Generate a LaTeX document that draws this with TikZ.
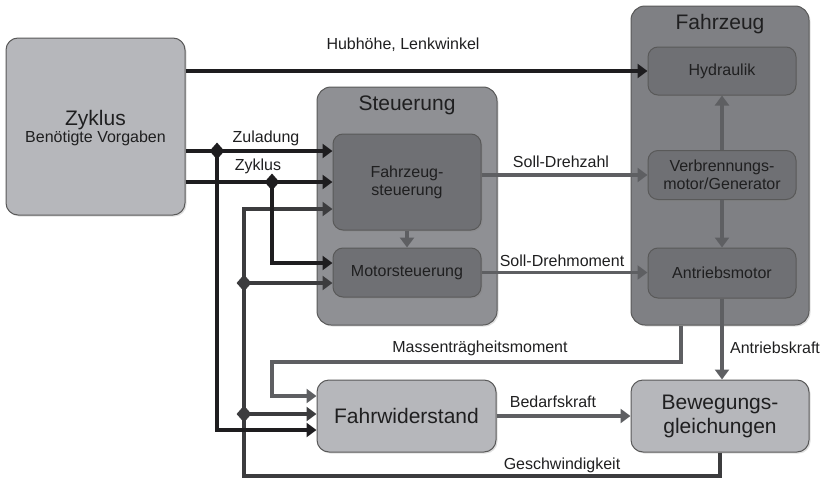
\documentclass[tikz,border=0pt]{standalone}
\usepackage{fontspec}
\setmainfont{Liberation Sans}
\usetikzlibrary{arrows.meta,shapes.geometric,shadows}

\definecolor{blk}{HTML}{1E1D1F}
\definecolor{dgr}{HTML}{3C3C3E}
\definecolor{gry}{HTML}{5E5F62}
\definecolor{lightbox}{HTML}{B6B7BB}
\definecolor{steubox}{HTML}{8F9094}
\definecolor{carbox}{HTML}{7F8084}
\definecolor{innerbox}{HTML}{6F7074}
\definecolor{txt}{HTML}{1F1F20}

\tikzset{
  box/.style={draw=black!65, line width=1pt, rounded corners=12pt, inner sep=0pt,
    text=txt, align=center, font=\fontsize{16}{18}\selectfont,
    drop shadow={opacity=0.25, shadow xshift=1.5pt, shadow yshift=-1.5pt}},
  lightnode/.style={box, fill=lightbox, font=\fontsize{21}{24}\selectfont},
  outer/.style={box, fill=#1, rounded corners=14pt},
  inner/.style={box, fill=innerbox, rounded corners=10pt, minimum width=148pt},
  title/.style={text=txt, align=center, font=\fontsize{21}{24}\selectfont},
  lbl/.style={text=txt, font=\fontsize{16}{18}\selectfont, inner sep=0pt},
  blkline/.style={draw=blk, line width=3.5pt, -{Triangle[length=10pt,width=14pt]}},
  dgrline/.style={draw=dgr, line width=3.5pt, -{Triangle[length=10pt,width=14pt]}},
  gryline/.style={draw=gry, line width=3.5pt, -{Triangle[length=10pt,width=14pt]}},
  junction/.style={diamond, fill=#1, inner sep=0pt, minimum width=15pt, minimum height=17pt}
}

\begin{document}
\begin{tikzpicture}[x=1pt,y=-1pt]
\useasboundingbox (0,0) rectangle (827,479);

\node[lightnode, minimum width=179pt, minimum height=177pt] (zyk) at (95.5,126.5) {};
\node[title] (zykt) at (95.5,128)
  {Zyklus\\[-7pt]{\fontsize{16}{18}\selectfont Benötigte Vorgaben}};

\node[outer=steubox, minimum width=180pt, minimum height=238pt] (steu) at (407,206) {};
\node[title] (steut) at (407,105) {Steuerung};
\node[inner, minimum height=96pt] (fzs) at (407,182) {Fahrzeug-\\steuerung};
\node[inner, minimum height=49pt] (ms) at (407,272.5) {Motorsteuerung};

\node[outer=carbox, minimum width=178pt, minimum height=319pt] (fz) at (720,165.5) {};
\node[title] (fzt) at (720,24) {Fahrzeug};
\node[inner, minimum height=48pt] (hyd) at (722,71) {Hydraulik};
\node[inner, minimum height=49pt] (vm) at (722,175) {Verbrennungs-\\motor/Generator};
\node[inner, minimum height=50pt] (am) at (722,273) {Antriebsmotor};

\node[lightnode, minimum width=179pt, minimum height=72pt] (fwd) at (406.5,416) {Fahrwiderstand};
\node[lightnode, minimum width=178pt, minimum height=72pt] (bew) at (720,416) {Bewegungs-\\gleichungen};

\coordinate (zu) at (217,151);
\coordinate (zuend) at (217,430);
\coordinate (zy) at (272,182);
\coordinate (zyend) at (272,263);
\coordinate (gw) at (244,476);
\coordinate (gf) at (244,209);
\coordinate (gm) at (244,283);
\coordinate (gr) at (244,414);
\coordinate (mt) at (681,362);
\coordinate (mtl) at (272,396);

\draw[gryline] (fzs.east |- vm.west) -- (vm.west);
\draw[gryline] (ms.east) -- (am.west |- ms.east);
\draw[gryline] (fzs.south) -- (ms.north);
\draw[gryline] (vm.north) -- (hyd.south);
\draw[gryline] (vm.south) -- (am.north);
\draw[gryline] (am.south) -- (am.south |- bew.north);
\draw[gryline] (fwd.east) -- (bew.west |- fwd.east);
\draw[gryline] (fz.south -| mt) -- (mt) -| (mtl) -- (fwd.west |- mtl);

\draw[dgrline] (bew.south -| 720,0) |- (gw) -- (gf) -- (fzs.west |- gf);
\draw[dgrline] (gm) -- (ms.west |- gm);
\draw[dgrline] (gr) -- (fwd.west |- gr);
\node[junction=dgr] (jgm) at (gm) {};
\node[junction=dgr] (jgr) at (gr) {};

\draw[blkline] (zyk.east |- hyd.west) -- (hyd.west);
\draw[blkline] (zyk.east |- zu) -- (fzs.west |- zu);
\draw[blkline] (zyk.east |- zy) -- (fzs.west |- zy);
\draw[blkline] (zu) -- (zuend) -- (fwd.west |- zuend);
\draw[blkline] (zy) -- (zyend) -- (ms.west |- zyend);
\node[junction=blk] (jzu) at (zu) {};
\node[junction=blk] (jzy) at (zy) {};

\node[lbl] (lhub) at (403,45) {Hubhöhe, Lenkwinkel};
\node[lbl] (lzu) at (266,138) {Zuladung};
\node[lbl] (lzy) at (258,166) {Zyklus};
\node[lbl] (ldz) at (561,162) {Soll-Drehzahl};
\node[lbl] (ldm) at (562,261) {Soll-Drehmoment};
\node[lbl] (lmt) at (480,348) {Massenträgheitsmoment};
\node[lbl] (lak) at (775,348) {Antriebskraft};
\node[lbl] (lbk) at (553,402) {Bedarfskraft};
\node[lbl] (lgw) at (562,465) {Geschwindigkeit};
\end{tikzpicture}
\end{document}
